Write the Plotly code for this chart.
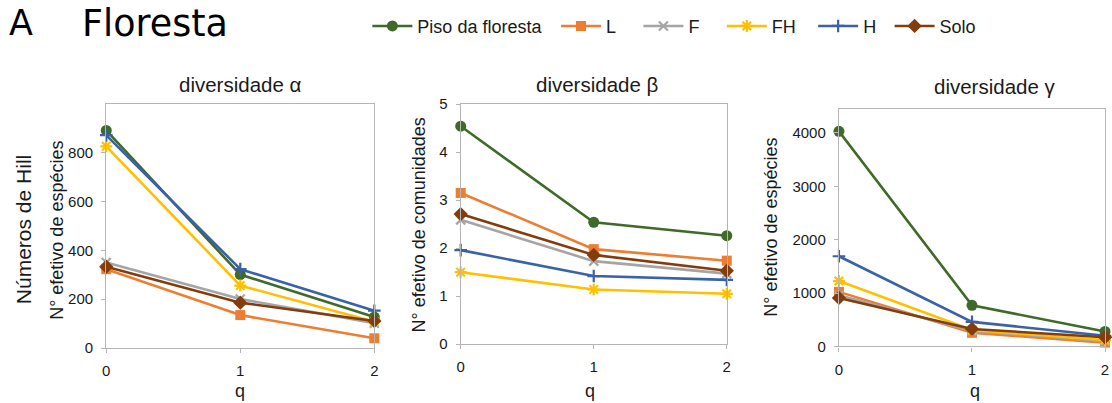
import plotly.graph_objects as go

# ---------------- data ----------------
q = [0, 1, 2]
series_names = ["Piso da floresta", "L", "F", "FH", "H", "Solo"]

alpha_piso = [891, 301, 127]
alpha_L = [323, 135, 40]
alpha_F = [350, 201, 102]
alpha_FH = [826, 256, 108]
alpha_H = [872, 323, 153]
alpha_solo = [333, 186, 111]

beta_piso = [4.54, 2.54, 2.26]
beta_L = [3.15, 1.98, 1.74]
beta_F = [2.59, 1.73, 1.47]
beta_FH = [1.50, 1.14, 1.05]
beta_H = [1.96, 1.42, 1.34]
beta_solo = [2.71, 1.86, 1.53]

gamma_piso = [4030, 771, 280]
gamma_L = [1022, 255, 72]
gamma_F = [960, 290, 100]
gamma_FH = [1225, 310, 120]
gamma_H = [1690, 460, 200]
gamma_solo = [908, 328, 172]

panel_titles = ["diversidade α", "diversidade β", "diversidade γ"]
y_titles = ["N° efetivo de espécies", "N° efetivo de comunidades", "N° efetivo de espécies"]
alpha_ticks = [0, 200, 400, 600, 800]
beta_ticks = [0, 1, 2, 3, 4, 5]
gamma_ticks = [0, 1000, 2000, 3000, 4000]

# ---------------- style ----------------
colors = ["#3F6A2A", "#ED7D31", "#A5A5A5", "#FFC000", "#3A62A8", "#843C0C"]
symbols = ["circle", "square", "x-thin-open", "asterisk-open", "cross-thin-open", "diamond"]
sizes = [11, 10, 9, 10, 9, 11]
legend_text_x = [418, 608, 691, 775, 867, 944]  # pixel left edge of each legend label

W, H = 1112, 403
def px_x(x):
    return x / W
def px_y(y):
    return 1 - y / H

panels = [
    dict(data=[alpha_piso, alpha_L, alpha_F, alpha_FH, alpha_H, alpha_solo],
         xd=(103, 373), yd=(99, 354), yr=[0, 1000], ticks=alpha_ticks),
    dict(data=[beta_piso, beta_L, beta_F, beta_FH, beta_H, beta_solo],
         xd=(460, 728), yd=(99.3, 350), yr=[0, 5], ticks=beta_ticks),
    dict(data=[gamma_piso, gamma_L, gamma_F, gamma_FH, gamma_H, gamma_solo],
         xd=(841, 1109), yd=(104.3, 352.3), yr=[0, 4450], ticks=gamma_ticks),
]

fig = go.Figure()
font_family = "Liberation Sans, Arial, sans-serif"
text_color = "#1a1a1a"
legend_keys = ["legend"] + [f"legend{i}" for i in range(2, 7)]

for p_i, p in enumerate(panels):
    xa = "x" if p_i == 0 else f"x{p_i+1}"
    ya = "y" if p_i == 0 else f"y{p_i+1}"
    for s_i, name in enumerate(series_names):
        sym = symbols[s_i]
        open_sym = sym.endswith("open")
        fig.add_trace(go.Scatter(
            x=q, y=p["data"][s_i], name=name, mode="lines+markers",
            xaxis=xa, yaxis=ya, showlegend=(p_i == 0), legendgroup=name,
            legend=legend_keys[s_i],
            cliponaxis=False,
            line=dict(color=colors[s_i], width=2.6),
            marker=dict(symbol=sym, size=sizes[s_i], color=colors[s_i],
                        line=dict(color=colors[s_i], width=2.2 if open_sym else 0)),
        ))
    axis_common = dict(showline=True, mirror=True, linecolor="#B5B5B5", linewidth=1.3,
                       showgrid=False, zeroline=False, ticks="outside", ticklen=4,
                       tickcolor="#B5B5B5",
                       tickfont=dict(family=font_family, size=15, color=text_color))
    xkey = "xaxis" if p_i == 0 else f"xaxis{p_i+1}"
    ykey = "yaxis" if p_i == 0 else f"yaxis{p_i+1}"
    fig.update_layout(**{
        xkey: dict(domain=[px_x(p["xd"][0]), px_x(p["xd"][1])], range=[0, 2],
                   tickvals=q, ticktext=[str(v) for v in q], anchor=ya,
                   ticklabelstandoff=5, **axis_common),
        ykey: dict(domain=[px_y(p["yd"][1]), px_y(p["yd"][0])], range=p["yr"],
                   tickvals=p["ticks"], anchor=xa, ticklabelstandoff=5, **axis_common),
    })

annotations = []
# panel titles
for t, cx, cy in zip(panel_titles, [238, 597, 998], [79, 79, 81]):
    annotations.append(dict(text=t, x=px_x(cx), y=px_y(cy), xref="paper", yref="paper",
                            showarrow=False, xanchor="center", yanchor="middle",
                            font=dict(family=font_family, size=20.5, color=text_color)))
# y titles
for t, cx, cy in zip(y_titles, [54, 418, 773], [231, 225, 228]):
    annotations.append(dict(text=t, x=px_x(cx), y=px_y(cy), xref="paper", yref="paper",
                            showarrow=False, xanchor="center", yanchor="middle", textangle=-90,
                            font=dict(family=font_family, size=18, color=text_color)))
annotations.append(dict(text="Números de Hill", x=px_x(19), y=px_y(230), xref="paper", yref="paper",
                        showarrow=False, xanchor="center", yanchor="middle", textangle=-90,
                        font=dict(family=font_family, size=21, color=text_color)))
# x titles
for cx in [238, 590, 978]:
    annotations.append(dict(text="q", x=px_x(cx), y=px_y(399), xref="paper", yref="paper",
                            showarrow=False, xanchor="center", yanchor="middle",
                            borderpad=0,
                            font=dict(family=font_family, size=18, color=text_color)))
# figure heading
annotations.append(dict(text="A", x=px_x(3), y=px_y(15), xref="paper", yref="paper",
                        showarrow=False, xanchor="left", yanchor="middle",
                        font=dict(family="DejaVu Sans, Verdana, sans-serif", size=35, color="#000000")))
annotations.append(dict(text="Floresta", x=px_x(77), y=px_y(15), xref="paper", yref="paper",
                        showarrow=False, xanchor="left", yanchor="middle",
                        font=dict(family="DejaVu Sans, Verdana, sans-serif", size=36.5, color="#000000")))

legend_layout = {}
for key, tx in zip(legend_keys, legend_text_x):
    legend_layout[key] = dict(orientation="h", x=px_x(tx - 52), y=px_y(18), xanchor="left",
                              yanchor="middle", itemwidth=40,
                              font=dict(family=font_family, size=18, color=text_color),
                              bgcolor="rgba(0,0,0,0)")

fig.update_layout(
    width=W, height=H,
    margin=dict(l=0, r=0, t=0, b=0),
    paper_bgcolor="white", plot_bgcolor="white",
    annotations=annotations,
    **legend_layout,
)

fig.write_html("out.html")
